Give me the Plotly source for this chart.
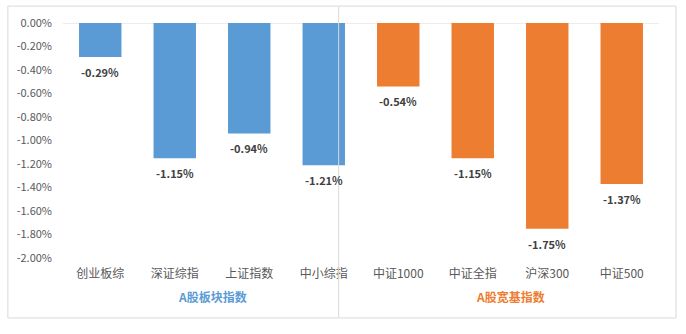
import plotly.graph_objects as go

categories = ["创业板综", "深证综指", "上证指数", "中小综指", "中证1000", "中证全指", "沪深300", "中证500"]
values = [-0.29, -1.15, -0.94, -1.21, -0.54, -1.15, -1.75, -1.37]
groups = ["A股板块指数"] * 4 + ["A股宽基指数"] * 4
group_names = ["A股板块指数", "A股宽基指数"]
group_colors = {"A股板块指数": "#5B9BD5", "A股宽基指数": "#ED7D31"}
y_ticks = [0, -0.2, -0.4, -0.6, -0.8, -1.0, -1.2, -1.4, -1.6, -1.8, -2.0]

FONT = "Noto Sans CJK SC, Microsoft YaHei, sans-serif"

fig = go.Figure()
fig.add_trace(go.Bar(
    x=categories,
    y=values,
    marker=dict(color=[group_colors[g] for g in groups], line=dict(width=0)),
    width=0.57,
))

# data labels below bar ends
for c, v in zip(categories, values):
    fig.add_annotation(
        x=c, xref="x", y=v, yref="y",
        text=f"<b>{v:.2f}%</b>", showarrow=False,
        font=dict(family=FONT, size=11, color="#404040"),
        xanchor="center", yanchor="top", yshift=-5,
    )

# group labels
for gname in group_names:
    idx = [i for i, g in enumerate(groups) if g == gname]
    xc = (idx[0] + idx[-1]) / 2
    fig.add_annotation(
        x=xc, xref="x", y=-0.165, yref="paper",
        text=f"<b>{gname}</b>", showarrow=False,
        font=dict(family=FONT, size=12, color=group_colors[gname]),
        xanchor="center", yanchor="middle",
    )

# divider line between groups
fig.add_shape(type="line", xref="x", yref="paper",
              x0=3.2, x1=3.2, y0=1.068, y1=-0.251,
              line=dict(color="#D9D9D9", width=1))

# outer border
fig.add_shape(type="rect", xref="paper", yref="paper",
              x0=-0.0925, x1=1.0285, y0=1.072, y1=-0.255,
              line=dict(color="#D9D9D9", width=1))

fig.update_layout(
    width=686, height=334,
    margin=dict(l=63, r=27, t=23, b=76),
    paper_bgcolor="white", plot_bgcolor="white",
    showlegend=False,
    font=dict(family=FONT, color="#595959"),
    bargap=0.43,
)
fig.update_xaxes(
    tickvals=list(range(len(categories))), ticktext=categories,
    showgrid=False, showline=False, zeroline=False,
    tickfont=dict(family=FONT, size=12, color="#595959"),
    ticks="", ticklabelstandoff=7,
)
fig.update_yaxes(
    range=[-2.0, 0.0],
    tickvals=y_ticks, ticktext=[f"{v:.2f}%" for v in y_ticks],
    showgrid=False, zeroline=False, showline=False,
    tickfont=dict(family=FONT, size=11, color="#595959"),
    ticks="", ticklabelstandoff=10,
)
# zero line across plot
fig.add_shape(type="line", xref="paper", yref="y", x0=0, x1=1, y0=0, y1=0,
              line=dict(color="#D9D9D9", width=1), layer="below")

fig.write_html("out.html")
